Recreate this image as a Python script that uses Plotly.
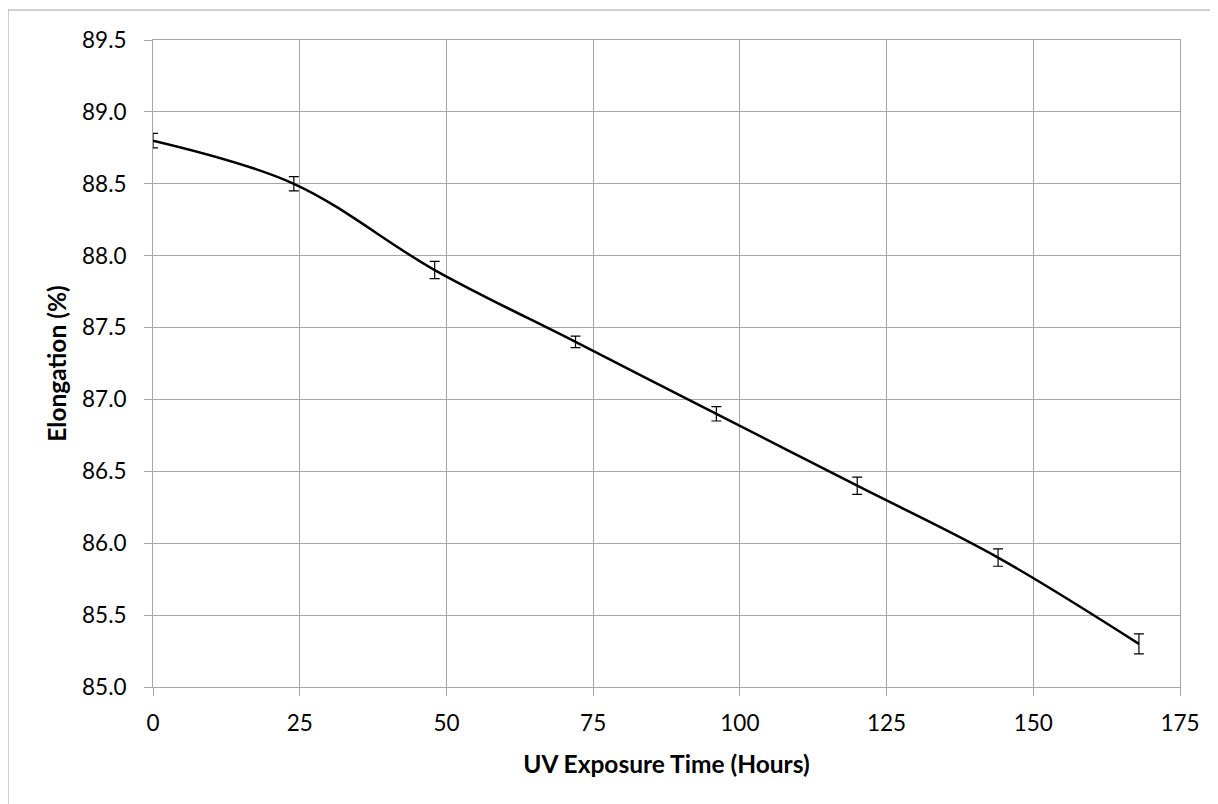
import plotly.graph_objects as go

hours = [0, 24, 48, 72, 96, 120, 144, 168]
elongation = [88.8, 88.5, 87.9, 87.4, 86.9, 86.4, 85.9, 85.3]
error = [0.05, 0.05, 0.06, 0.04, 0.05, 0.06, 0.06, 0.07]

x_ticks = [0, 25, 50, 75, 100, 125, 150, 175]
y_ticks = [85.0, 85.5, 86.0, 86.5, 87.0, 87.5, 88.0, 88.5, 89.0, 89.5]

FONT = "Lato"
GRID = "#a6a6a6"

fig = go.Figure()
fig.add_trace(go.Scatter(
    x=hours, y=elongation,
    mode="lines",
    line=dict(color="black", width=2.5, shape="spline", smoothing=1.0),
    error_y=dict(type="data", array=error, visible=True, color="black",
                 thickness=1.2, width=5),
    showlegend=False,
))

fig.update_layout(
    width=1218, height=804,
    margin=dict(l=145, r=46, t=32, b=125),
    paper_bgcolor="white", plot_bgcolor="white",
    font=dict(family=FONT, color="black"),
    xaxis=dict(
        range=[0, 175], tickvals=x_ticks, ticktext=[str(v) for v in x_ticks],
        showgrid=True, gridcolor=GRID, gridwidth=1,
        showline=True, linecolor=GRID, linewidth=1, mirror=True,
        ticks="outside", ticklen=8, tickcolor=GRID,
        tickfont=dict(size=22.5, family=FONT), ticklabelstandoff=8,
        zeroline=False,
        title=dict(text="<b>UV Exposure Time (Hours)</b>", font=dict(size=24.5, family=FONT), standoff=20),
    ),
    yaxis=dict(
        range=[85.0, 89.5], tickvals=y_ticks, ticktext=[f"{v:.1f}" for v in y_ticks],
        showgrid=True, gridcolor=GRID, gridwidth=1,
        showline=True, linecolor=GRID, linewidth=1, mirror=True,
        ticks="outside", ticklen=8, tickcolor=GRID,
        tickfont=dict(size=22.5, family=FONT), ticklabelstandoff=13,
        zeroline=False,
        title=dict(text="<b>Elongation (%)</b>", font=dict(size=24.5, family=FONT), standoff=8),
    ),
    shapes=[dict(type="rect", xref="paper", yref="paper",
                 x0=-145 / 1027, x1=1.2, y0=-0.4, y1=(679 - 2) / 647,
                 line=dict(color="#a0a0a0", width=1), fillcolor="rgba(0,0,0,0)",
                 layer="below")],
)

fig.write_html("out.html")
